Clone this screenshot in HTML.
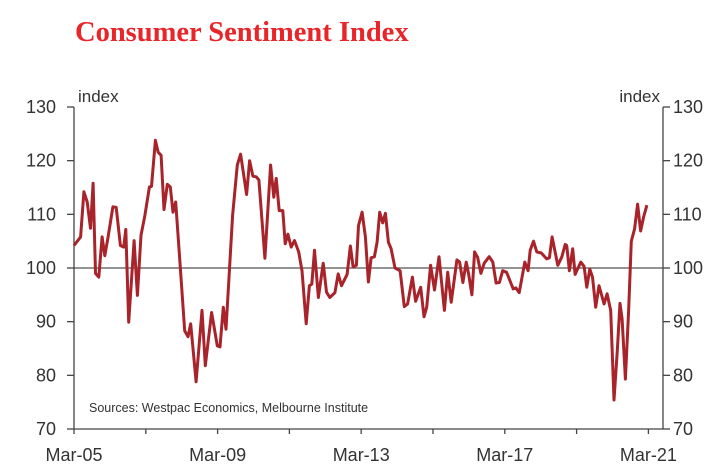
<!DOCTYPE html>
<html><head><meta charset="utf-8"><style>
html,body{margin:0;padding:0;background:#fff;width:723px;height:472px;overflow:hidden}
svg{display:block}
text{font-family:"Liberation Sans",sans-serif;fill:#333}
</style></head><body>
<svg id="chart" width="723" height="472">
<text x="75" y="41" style="font-family:'Liberation Serif',serif;font-weight:bold;font-size:28.5px;fill:#e8262a">Consumer Sentiment Index</text>
<text x="78" y="102" font-size="17">index</text>
<text x="660" y="102" font-size="17" text-anchor="end">index</text>
<text x="89" y="412" font-size="12.5">Sources: Westpac Economics, Melbourne Institute</text>
<g id="axes"></g>
<g id="series"></g>
</svg>
<script>
const yTicks=[70,80,90,100,110,120,130];
const xTickMonths=[0,24,48,72,96,120,144,168,192];
const xTickLabels=["Mar-05","","Mar-09","","Mar-13","","Mar-17","","Mar-21"];
const months=[0,2.2,3.3,4.4,5.5,6.4,7.2,8.3,9.4,10.3,11.4,13,14.1,15.5,16.6,17.3,18.3,20.1,21.2,22.4,23.7,25.2,25.9,27.2,28.1,29.1,30.1,31.2,32.2,33.1,34,35.3,37,38.1,39,40.8,42.8,43.9,46,47.9,48.8,49.9,50.8,53,54.6,55.7,57.7,58.7,59.8,60.9,61.8,63.8,65.7,66.8,67.6,68.6,69.8,70.6,71.5,72.6,73.7,75.1,76.2,77.6,78.7,79.5,80.4,81.7,83.3,84.4,85.5,87.2,88.3,89.4,91.3,92.4,93.3,94.4,95.1,96.3,97.4,98.4,99.3,100.4,101.3,102.2,103.2,104.1,105.1,106,107.3,109,110.4,111.5,113.1,114.2,115.9,117,117.9,119.2,120.5,122,123.8,124.9,126.1,128,128.9,130,131.1,131.9,133,133.9,134.9,136,137.1,138.8,140,141.1,142.2,143.3,144.6,146.8,147.7,148.8,150.7,151.8,152.5,153.6,154.7,156.2,158,158.9,159.8,161.7,163.1,164.2,164.7,165.6,166.7,167.5,169.4,170.5,171.4,172.4,173.3,174.4,175.5,177.2,178.2,179.4,180.5,181.6,182.5,183.2,184.3,185.4,186.3,187.4,188.4,189.4,190.4,191.5];
const values=[104.2,105.8,114.2,112.3,107.4,115.8,99,98.3,105.8,102.3,105.8,111.4,111.3,104.2,103.9,107.2,89.9,105.1,94.9,106.1,109.8,115.1,115.2,123.8,121.6,121,110.9,115.6,115.1,110.4,112.3,102,88.3,87.2,89.6,78.8,92.1,81.8,91.7,85.5,85.3,92.7,88.6,109.8,119.2,121.2,113.7,120,117.1,117,116.4,101.8,119.2,113.2,116.7,110.7,110.7,104.5,106.3,103.9,105.1,103,99.5,89.6,96.7,97,103.3,94.5,100.9,95.5,94.5,95.4,98.9,96.7,98.8,104.1,100.2,100.5,107.9,110.4,105.8,97.4,101.9,102.1,104.8,110.4,108.4,110.2,104.8,103.6,100,99.5,92.8,93.3,98.3,93.8,96.4,90.9,92.7,100.5,95.9,102.1,92.1,99.2,93.6,101.5,101.1,97.3,101.1,98.9,95,103,102,99,100.9,102.1,101.1,97.2,97.3,99.5,99.2,96.1,96.3,95.4,101.1,99.5,103.3,105,103,102.8,101.7,101.9,105.8,100.5,102.1,104.4,104.2,99.5,103.6,98.8,101.1,100.3,96.4,99.8,98.3,92.7,96.7,93.3,95.2,92.1,75.4,84.6,93.4,90.5,79.3,92.4,105,107.3,111.9,106.9,109.5,111.7];
const X0=74,X1=663,YT=107,YB=429;
function x(m){return X0+m*(648.4-X0)/192;}
function y(v){return YB-(v-70)*(YB-YT)/60;}
const NS="http://www.w3.org/2000/svg";
const axes=document.getElementById('axes');
function mk(tag,attrs,parent){const e=document.createElementNS(NS,tag);for(const k in attrs)e.setAttribute(k,attrs[k]);parent.appendChild(e);return e;}
const ref=mk('line',{x1:X0,x2:X1,y1:y(100),y2:y(100),stroke:'#555','stroke-width':1.3},axes);


const la=mk('line',{x1:X0,x2:X0,y1:YT,y2:YB,stroke:'#444','stroke-width':1.3},axes);


const ra=mk('line',{x1:X1,x2:X1,y1:YT,y2:YB,stroke:'#444','stroke-width':1.3},axes);


const ba=mk('line',{x1:X0,x2:X1,y1:YB,y2:YB,stroke:'#444','stroke-width':1.3},axes);


yTicks.forEach(v=>{
  mk('line',{x1:X0-7,x2:X0,y1:y(v),y2:y(v),stroke:'#444','stroke-width':1.3},axes);
  mk('line',{x1:X1,x2:X1+7,y1:y(v),y2:y(v),stroke:'#444','stroke-width':1.3},axes);
  const t=mk('text',{x:X0-18,y:y(v)+6,'font-size':18,'text-anchor':'end'},axes);t.textContent=v;
  
  
  const t2=mk('text',{x:X1+10,y:y(v)+6,'font-size':18},axes);t2.textContent=v;
  
  
});
xTickMonths.forEach((m,i)=>{
  mk('line',{x1:x(m),x2:x(m),y1:YB,y2:YB+5,stroke:'#444','stroke-width':1.3},axes);
  if(xTickLabels[i]){const t=mk('text',{x:x(m),y:YB+32,'font-size':18,'text-anchor':'middle'},axes);t.textContent=xTickLabels[i];
  
  }
});
const d=months.map((m,i)=>(i?'L':'M')+x(m).toFixed(1)+','+y(values[i]).toFixed(1)).join('');
const p=mk('path',{d:d,fill:'none',stroke:'#a8232a','stroke-width':3,'stroke-linejoin':'round'},document.getElementById('series'));


</script>
</body></html>
